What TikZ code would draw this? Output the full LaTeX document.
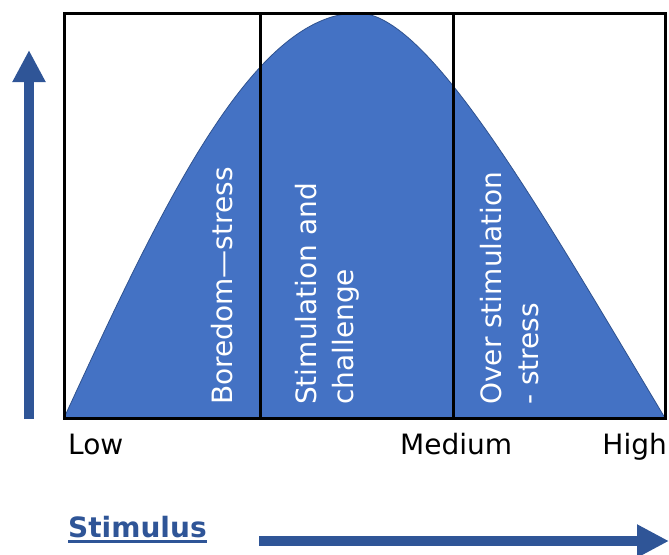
\documentclass[tikz,border=0pt]{standalone}
\usepackage{fontspec}
\setmainfont{DejaVu Sans}
\usetikzlibrary{arrows.meta}
\definecolor{bellblue}{HTML}{4472C4}
\definecolor{belledge}{HTML}{2F528F}
\definecolor{axisblue}{HTML}{2F5597}
\tikzset{
  zone/.style={rotate=90, anchor=west, inner sep=0pt, align=left, text=white,
    font=\fontsize{28}{37}\selectfont},
  scalelabel/.style={anchor=base west, inner sep=0pt, font=\fontsize{28}{34}\selectfont},
  axisarrow/.style={axisblue, line width=10pt, -{Triangle[length=32pt,width=31pt]}}
}
\begin{document}
\begin{tikzpicture}[x=1pt,y=-1pt]
  \useasboundingbox (0,0) rectangle (669,554);

  % bell curve
  \filldraw[fill=bellblue, draw=belledge, line width=0.8pt] (64,418)
    plot[domain=64:358, samples=80] (\x, {418-405*cos((358-\x)*0.306122)})
    .. controls (428,13) and (537,204) .. (665,418) -- cycle;

  % frame and zones
  \draw[line width=3pt] (64,13) rectangle (665,418);
  \draw[line width=3pt] (260,13) -- (260,418);
  \draw[line width=3pt] (453,13) -- (453,418);

  \node[zone] (bored) at (222,405) {Boredom---stress};
  \node[zone] (stimchal) at (327,405) {Stimulation and\\challenge};
  \node[zone] (overstim) at (510,405) {Over stimulation\\- stress};

  \node[scalelabel] (low) at (68,454) {Low};
  \node[scalelabel] (medium) at (400,454) {Medium};
  \node[scalelabel, anchor=base east] (high) at (667,454) {High};

  \node[scalelabel, text=axisblue, font=\bfseries\fontsize{28}{34}\selectfont] (stim) at (68,537) {Stimulus};
  \draw[axisblue, line width=3pt] ([yshift=-4pt]stim.base west) -- ([yshift=-4pt]stim.base east);

  % axis arrows
  \coordinate (ybot) at (29,419); \coordinate (ytop) at (29,50);
  \coordinate (xleft) at (259,541); \coordinate (xright) at (669,541);
  \draw[axisarrow] (ybot) -- (ytop);
  \draw[axisarrow] (xleft) -- (xright);
\end{tikzpicture}
\end{document}
